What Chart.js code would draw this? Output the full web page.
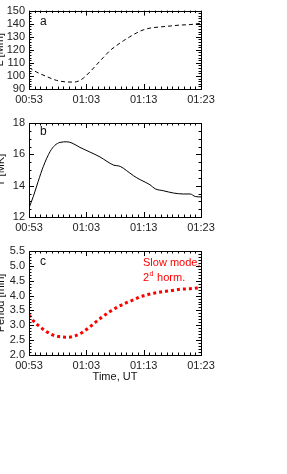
<!DOCTYPE html>
<html>
<head>
<meta charset="utf-8">
<script src="https://cdn.jsdelivr.net/npm/chart.js@4"></script>
<style>
  html, body { margin: 0; padding: 0; background: #fff; overflow: hidden; }
  body { width: 287px; height: 474px; position: relative; }
  canvas { position: absolute; left: 0; }
</style>
</head>
<body>
<canvas id="chartA" width="287" height="106" style="top:0px"></canvas>
<canvas id="chartB" width="287" height="124" style="top:110px"></canvas>
<canvas id="chartC" width="287" height="147" style="top:240px"></canvas>
<script>
// time axis: minutes after 00:53
const timeLabels = ['00:53', '01:03', '01:13', '01:23'];

// panel a - loop length
const timesA = [0, 1.3, 3.1, 4.8, 6.3, 7.7, 8.6, 9.5, 10.6, 11.8, 13.0, 14.1, 15.3, 16.5, 17.6, 18.8, 19.9, 21.1, 22.9, 24.6, 26.3, 28.1, 30];
const lengthA = [106.4, 103, 99.5, 96.6, 95.5, 95.3, 96, 98.4, 103, 108.6, 114.3, 119.3, 123.4, 127, 130, 133, 135.2, 136.6, 137.5, 138.2, 138.9, 139.3, 140.3];

// panel b - temperature
const timesB = [0, 0.75, 1.6, 2.5, 3.7, 4.5, 5.4, 6.6, 7.5, 8.9, 10.6, 12.4, 13.6, 14.7, 15.9, 17.0, 18.2, 19.4, 21.1, 22.0, 23.4, 25.2, 26.9, 28.1, 29.0, 30];
const tempB = [12.57, 13.31, 14.27, 15.23, 16.19, 16.57, 16.76, 16.8, 16.72, 16.44, 16.15, 15.83, 15.55, 15.32, 15.23, 14.97, 14.64, 14.38, 14.06, 13.8, 13.68, 13.53, 13.47, 13.47, 13.31, 13.28];

// panel c - period
const timesC = [0, 0.75, 1.9, 3.1, 4.2, 5.7, 6.9, 8.0, 9.2, 10.3, 11.5, 12.7, 14.1, 15.6, 17.0, 18.5, 19.4, 20.5, 21.1, 22.9, 24.6, 26.3, 28.1, 30];
const periodC = [3.35, 3.15, 2.95, 2.78, 2.67, 2.61, 2.60, 2.64, 2.75, 2.90, 3.09, 3.27, 3.46, 3.63, 3.76, 3.88, 3.96, 4.02, 4.05, 4.12, 4.16, 4.21, 4.23, 4.27];

const FONT = "'Liberation Sans', Arial, sans-serif";

const framePlugin = {
  id: 'frame',
  afterDraw(chart, args, opts) {
    const ctx = chart.ctx;
    const a = chart.chartArea;
    const xs = chart.scales.x, ys = chart.scales.y;
    ctx.save();
    ctx.strokeStyle = '#000';
    ctx.lineWidth = 1;
    ctx.strokeRect(Math.round(a.left) + 0.5, Math.round(a.top) + 0.5,
                   Math.round(a.right - a.left), Math.round(a.bottom - a.top));
    ctx.beginPath();
    // x ticks, top and bottom, inward
    for (let i = 0; i <= 30; i++) {
      const px = Math.round(xs.getPixelForValue(i)) + 0.5;
      const len = i % 10 === 0 ? 5 : 2.5;
      ctx.moveTo(px, a.bottom); ctx.lineTo(px, a.bottom - len);
      ctx.moveTo(px, a.top); ctx.lineTo(px, a.top + len);
    }
    // y ticks, left and right
    const n = Math.round((ys.max - ys.min) / opts.minor);
    for (let i = 0; i <= n; i++) {
      const v = ys.min + i * opts.minor;
      const py = Math.round(ys.getPixelForValue(v)) + 0.5;
      const len = i % opts.per === 0 ? 5 : 2.5;
      ctx.moveTo(a.left, py); ctx.lineTo(a.left + len, py);
      ctx.moveTo(a.right, py); ctx.lineTo(a.right - len, py);
    }
    ctx.stroke();

    ctx.fillStyle = '#111';
    ctx.font = '12px ' + FONT;
    ctx.textBaseline = 'middle';
    ctx.textAlign = 'left';
    ctx.fillText(opts.letter, a.left + 11, a.top + opts.letterDy);

    // y title, mostly off the left edge
    ctx.save();
    ctx.translate(opts.titleX, (a.top + a.bottom) / 2);
    ctx.rotate(-Math.PI / 2);
    ctx.textAlign = 'center';
    ctx.textBaseline = 'alphabetic';
    ctx.font = '11px ' + FONT;
    ctx.fillText(opts.yTitle, 0, 0);
    ctx.restore();

    if (opts.xTitle) {
      ctx.textAlign = 'center';
      ctx.font = '11px ' + FONT;
      ctx.fillText(opts.xTitle, (a.left + a.right) / 2, a.bottom + 22);
    }
    if (opts.note) {
      ctx.fillStyle = '#ff0000';
      ctx.font = '11px ' + FONT;
      ctx.textAlign = 'left';
      const x0 = a.left + 114;
      ctx.fillText('Slow mode,', x0, a.top + 12);
      ctx.fillText('2', x0, a.top + 27);
      const w2 = ctx.measureText('2').width;
      ctx.font = '7px ' + FONT;
      ctx.fillText('d', x0 + w2 + 0.5, a.top + 23);
      const wd = ctx.measureText('d').width;
      ctx.font = '11px ' + FONT;
      ctx.fillText(' horm.', x0 + w2 + wd + 1, a.top + 27);
    }
    ctx.restore();
  }
};

function makePanel(id, times, values, ds, y, frame, padTop, xHeight) {
  return new Chart(document.getElementById(id), {
    type: 'line',
    data: {
      labels: times,
      datasets: [Object.assign({
        data: times.map((t, i) => ({ x: t, y: values[i] })),
        pointRadius: 0,
        fill: false,
        cubicInterpolationMode: 'monotone'
      }, ds)]
    },
    options: {
      responsive: false,
      animation: false,
      devicePixelRatio: 1,
      layout: { padding: { left: 0, right: 86, top: padTop, bottom: 0 } },
      plugins: { legend: { display: false }, tooltip: { enabled: false }, frame: frame },
      scales: {
        x: {
          type: 'linear', min: 0, max: 30,
          grid: { display: false, drawTicks: false },
          border: { display: false },
          afterFit: s => { s.height = xHeight; },
          ticks: {
            stepSize: 10, padding: 4, maxRotation: 0, autoSkip: false, color: '#222',
            font: { family: FONT, size: 11 },
            callback: v => timeLabels[Math.round(v / 10)]
          }
        },
        y: {
          min: y.min, max: y.max,
          grid: { display: false, drawTicks: false },
          border: { display: false },
          afterFit: s => { s.width = 29; },
          ticks: {
            stepSize: y.step, padding: 4, autoSkip: false, color: '#222',
            font: { family: FONT, size: 11 },
            callback: v => y.fmt ? v.toFixed(1) : v
          }
        }
      }
    },
    plugins: [framePlugin]
  });
}

makePanel('chartA', timesA, lengthA,
  { borderColor: '#000', borderWidth: 1, borderDash: [4, 3] },
  { min: 90, max: 150, step: 10 },
  { minor: 2, per: 5, letter: 'a', letterDy: 11, yTitle: 'L [Mm]', titleX: 3 },
  1, 17);

makePanel('chartB', timesB, tempB,
  { borderColor: '#000', borderWidth: 1 },
  { min: 12, max: 18, step: 2 },
  { minor: 0.5, per: 4, letter: 'b', letterDy: 9, yTitle: 'T [MK]', titleX: 4 },
  13, 17);

makePanel('chartC', timesC, periodC,
  { borderColor: '#ff0000', borderWidth: 3, borderDash: [3, 3] },
  { min: 2, max: 5.5, step: 0.5, fmt: true },
  { minor: 0.1, per: 5, letter: 'c', letterDy: 11, yTitle: 'Period [min]', titleX: 4,
    xTitle: 'Time, UT', note: true },
  11, 32);
</script>
</body>
</html>
